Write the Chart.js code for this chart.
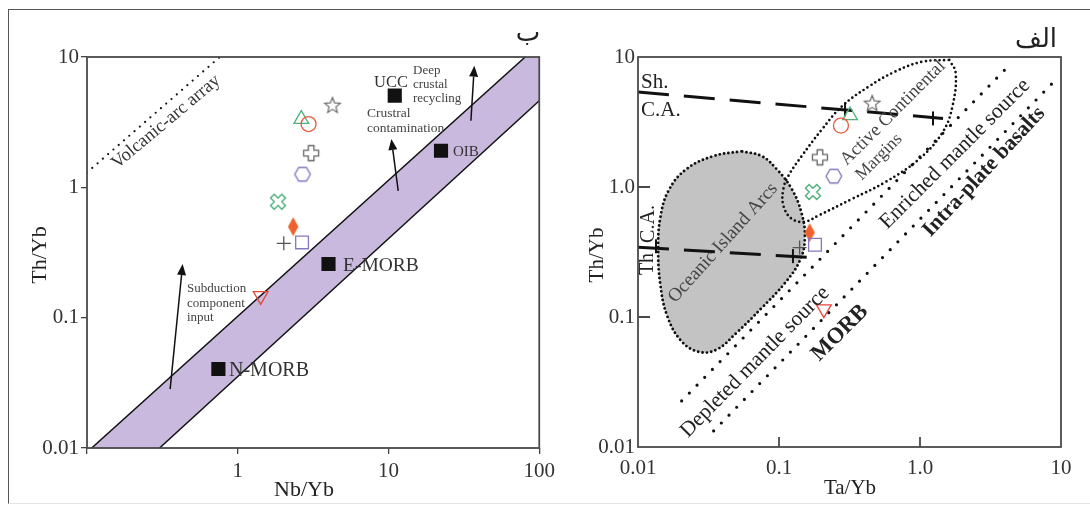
<!DOCTYPE html>
<html>
<head>
<meta charset="utf-8">
<script src="https://cdn.jsdelivr.net/npm/chart.js@4.4.1/dist/chart.umd.min.js"></script>
<style>
  html, body { margin: 0; padding: 0; background: #fff; }
  #wrap { position: relative; width: 1090px; height: 505px; overflow: hidden; }
  #frame { position: absolute; left: 8px; top: 9px; width: 1100px; height: 493px;
           border-left: 1.5px solid #555; border-top: 1.5px solid #555; border-bottom: 1px solid #e4e4e4; }
  canvas { position: absolute; top: 0; }
  #cB { left: 0; }
  #cA { left: 560px; }
</style>
</head>
<body>
<div id="wrap">
  <div id="frame"></div>
  <canvas id="cB" width="560" height="505"></canvas>
  <canvas id="cA" width="530" height="505"></canvas>
</div>
<script>
const SERIF = "'Liberation Serif', 'Times New Roman', serif";

// ---- samples (same symbols in both diagrams) ----
const sampleNames = ['star', 'triangle', 'circle', 'openCross', 'hexagon', 'openX', 'diamond', 'plus', 'square', 'invTriangle'];
// diagram ب : Nb/Yb vs Th/Yb
const nbYb  = [4.25, 2.64, 2.95, 3.07, 2.69, 1.85, 2.33, 2.02, 2.67, 1.42];
const thYbB = [4.23, 3.34, 3.06, 1.83, 1.26, 0.776, 0.499, 0.372, 0.378, 0.147];
// diagram الف : Ta/Yb vs Th/Yb
const taYb  = [0.458, 0.319, 0.275, 0.195, 0.245, 0.174, 0.165, 0.14, 0.18, 0.208];
const thYbA = [4.37, 3.55, 2.97, 1.69, 1.21, 0.916, 0.446, 0.342, 0.36, 0.115];

// reference compositions
const refNames = ['UCC', 'OIB', 'E-MORB', 'N-MORB'];
const refNb = [11.0, 22.3, 4.0, 0.744];
const refTh = [5.05, 1.91, 0.258, 0.0404];

// MORB-OIB array and volcanic-arc array (ب)
const bandUpperNb = [0.1074, 80.7];
const bandUpperTh = [0.01, 10];
const bandLowerNb = [0.303, 100];
const bandLowerTh = [0.01, 4.62];
const arcArrayNb = [0.1, 0.76];
const arcArrayTh = [1.3, 10];

// vectors (ب)
const arrowFromNb = [0.356, 11.6, 35.2];
const arrowFromTh = [0.0283, 0.94, 3.24];
const arrowToNb   = [0.431, 10.45, 37.1];
const arrowToTh   = [0.258, 2.35, 8.58];

// fields (الف)
const oiaTa = [0.0542, 0.0343, 0.022, 0.0164, 0.01436, 0.0139, 0.01436, 0.0161, 0.0202, 0.0268, 0.036, 0.05, 0.0753, 0.11, 0.1407, 0.1525, 0.145, 0.123, 0.0963, 0.0753, 0.0542];
const oiaTh = [1.88, 1.73, 1.37, 0.93, 0.57, 0.336, 0.182, 0.102, 0.0656, 0.054, 0.056, 0.0755, 0.117, 0.182, 0.272, 0.401, 0.622, 0.966, 1.37, 1.73, 1.88];
const acmTa = [1.612, 1.79, 1.70, 1.445, 0.986, 0.567, 0.33, 0.191, 0.1525, 0.123, 0.1074, 0.1074, 0.1166, 0.145, 0.2015, 0.28, 0.434, 0.668, 1.04, 1.612];
const acmTh = [9.49, 7.55, 4.18, 2.63, 1.64, 1.09, 0.81, 0.604, 0.541, 0.57, 0.72, 0.966, 1.22, 1.73, 2.77, 4.18, 5.93, 7.73, 9.2, 9.49];
const mantleUpperTa = [0.0204, 4.42];
const mantleUpperTh = [0.0226, 8.92];
const mantleLowerTa = [0.0344, 9.31];
const mantleLowerTh = [0.0133, 6.79];
const shoTa = [0.01, 1.456];   // Sh. / C.A.
const shoTh = [5.37, 3.37];
const thoTa = [0.01, 0.158];   // Th / C.A.
const thoTh = [0.344, 0.288];
const markTa = [0.294, 1.236, 0.1256, 0.01342];
const markTh = [3.95, 3.37, 0.294, 0.35];

// axes
const xTicksB = [0.1, 1, 10, 100];
const xTickLabelsB = ['', '1', '10', '100'];
const yTicksB = [0.01, 0.1, 1, 10];
const yTickLabelsB = ['0.01', '0.1', '1', '10'];
const xTicksA = [0.01, 0.1, 1, 10];
const xTickLabelsA = ['0.01', '0.1', '1.0', '10'];
const yTicksA = [0.01, 0.1, 1, 10];
const yTickLabelsA = ['0.01', '0.1', '1.0', '10'];

const pts = (xs, ys) => xs.map((x, i) => ({ x, y: ys[i] }));

// ---- marker images ----
function markerCanvas(w, h, draw) {
  const c = document.createElement('canvas');
  c.width = w; c.height = h;
  draw(c.getContext('2d'), w / 2, h / 2);
  return c;
}
function poly(g, cx, cy, p, rot) {
  g.beginPath();
  p.forEach(([x, y]) => {
    const c = Math.cos(rot), s = Math.sin(rot);
    g.lineTo(cx + x * c - y * s, cy + x * s + y * c);
  });
  g.closePath();
}
const crossPts = (a, L) => [[-a,-L],[a,-L],[a,-a],[L,-a],[L,a],[a,a],[a,L],[-a,L],[-a,a],[-L,a],[-L,-a],[-a,-a]];

const starImg = markerCanvas(20, 20, (g, cx, cy) => {
  const p = [];
  for (let i = 0; i < 10; i++) {
    const r = i % 2 ? 3.6 : 8.2, a = -Math.PI / 2 + i * Math.PI / 5;
    p.push([r * Math.cos(a), r * Math.sin(a)]);
  }
  poly(g, cx, cy, p, 0);
  g.strokeStyle = '#666'; g.lineWidth = 1.2; g.stroke();
});
const openCrossImg = markerCanvas(20, 20, (g, cx, cy) => {
  poly(g, cx, cy, crossPts(2.8, 7.5), 0);
  g.strokeStyle = '#666'; g.lineWidth = 1.3; g.stroke();
});
const openXImg = markerCanvas(22, 22, (g, cx, cy) => {
  poly(g, cx, cy, crossPts(2.6, 8), Math.PI / 4);
  g.strokeStyle = '#4daf78'; g.lineWidth = 1.4; g.stroke();
});
const hexImg = markerCanvas(20, 20, (g, cx, cy) => {
  const p = [];
  for (let i = 0; i < 6; i++) { const a = i * Math.PI / 3; p.push([7.8 * Math.cos(a), 7.8 * Math.sin(a)]); }
  poly(g, cx, cy, p, 0);
  g.strokeStyle = '#8577c0'; g.lineWidth = 1.4; g.stroke();
});
const diamondImg = markerCanvas(14, 22, (g, cx, cy) => {
  poly(g, cx, cy, [[0, -9.5], [5.2, 0], [0, 9.5], [-5.2, 0]], 0);
  g.fillStyle = '#f0622d'; g.fill();
});

const sampleStyle  = [starImg, 'triangle', 'circle', openCrossImg, hexImg, openXImg, diamondImg, 'cross', 'rect', 'triangle'];
const sampleColor  = ['#666', '#4db37a', '#e9573f', '#666', '#8577c0', '#4daf78', '#f0622d', '#555', '#8577c0', '#e9473a'];
const sampleRadius = [8, 8.5, 7.5, 8, 8, 8, 8, 7, 9, 8.5];
const sampleRot    = [0, 0, 0, 0, 0, 0, 0, 0, 0, 180];

function sampleDataset(xs, ys) {
  return {
    label: 'samples', data: pts(xs, ys), order: 0,
    pointStyle: sampleStyle, pointRadius: sampleRadius, pointRotation: sampleRot,
    pointBorderColor: sampleColor, pointBackgroundColor: 'rgba(0,0,0,0)', pointBorderWidth: 1.3
  };
}
function lineDataset(data, o) {
  return Object.assign({ data, showLine: true, pointRadius: 0, borderColor: '#111', borderWidth: 1.5,
    backgroundColor: 'rgba(0,0,0,0)', fill: false, tension: 0 }, o);
}
const dotted = (w, gap) => ({ borderWidth: w, borderDash: [0, gap], borderCapStyle: 'round', borderColor: '#111' });

// ---- text, frame, ticks, arrows ----
function drawNote(ctx, n) {
  ctx.save();
  ctx.translate(n.x, n.y);
  ctx.rotate((n.rot || 0) * Math.PI / 180);
  ctx.font = (n.bold ? 'bold ' : '') + n.size + 'px ' + (n.family || SERIF);
  ctx.fillStyle = n.color || '#222';
  ctx.textAlign = n.align || 'center';
  ctx.textBaseline = 'middle';
  ctx.fillText(n.t, 0, 0);
  ctx.restore();
}
function decor(notes, opts) {
  return {
    id: 'decor',
    afterDraw(chart) {
      const { ctx, chartArea: a, scales: { x, y } } = chart;
      ctx.save();
      ctx.strokeStyle = '#4a4a4a';
      ctx.lineWidth = 1.8;
      ctx.strokeRect(a.left, a.top, a.right - a.left, a.bottom - a.top);
      if (opts.inward) {
        ctx.beginPath();
        opts.inward.x.forEach(v => { const p = x.getPixelForValue(v); ctx.moveTo(p, a.bottom); ctx.lineTo(p, a.bottom - 10); });
        opts.inward.y.forEach(v => { const p = y.getPixelForValue(v); ctx.moveTo(a.left, p); ctx.lineTo(a.left + 12, p); });
        ctx.stroke();
      }
      if (opts.arrows) {
        const ar = opts.arrows;
        ctx.strokeStyle = '#111'; ctx.fillStyle = '#111'; ctx.lineWidth = 1.5;
        ar.fromX.forEach((_, i) => {
          const x0 = x.getPixelForValue(ar.fromX[i]), y0 = y.getPixelForValue(ar.fromY[i]);
          const x1 = x.getPixelForValue(ar.toX[i]), y1 = y.getPixelForValue(ar.toY[i]);
          const ang = Math.atan2(y1 - y0, x1 - x0);
          const L = 11, W = 4.5;
          const bx = x1 - L * Math.cos(ang), by = y1 - L * Math.sin(ang);
          ctx.beginPath(); ctx.moveTo(x0, y0); ctx.lineTo(bx, by); ctx.stroke();
          ctx.beginPath();
          ctx.moveTo(x1, y1);
          ctx.lineTo(bx + W * Math.sin(ang), by - W * Math.cos(ang));
          ctx.lineTo(bx - W * Math.sin(ang), by + W * Math.cos(ang));
          ctx.closePath(); ctx.fill();
        });
      }
      ctx.restore();
      notes.forEach(n => drawNote(ctx, n));
    }
  };
}

function logAxis(min, max, ticks, labels, pad, extra) {
  return Object.assign({
    type: 'logarithmic', min, max,
    afterBuildTicks: s => { s.ticks = ticks.map(v => ({ value: v })); },
    border: { display: false },
    ticks: { autoSkip: false, maxRotation: 0, padding: pad, color: '#333', font: { family: SERIF, size: 21 },
             callback: (v, i) => labels[i] }
  }, extra);
}

// ================= diagram ب =================
const bandPolyNb = [...bandUpperNb, 100, ...bandLowerNb.slice().reverse(), bandUpperNb[0]];
const bandPolyTh = [...bandUpperTh, 10, ...bandLowerTh.slice().reverse(), bandUpperTh[0]];

const notesB = [
  { t: 'ب', x: 528, y: 34, size: 26, family: "'DejaVu Sans', sans-serif", color: '#222' },
  { t: 'Th/Yb', x: 40, y: 255, size: 22, rot: -90, color: '#222' },
  { t: 'Nb/Yb', x: 304, y: 490, size: 22, color: '#222' },
  { t: 'Volcanic-arc array', x: 166, y: 122, size: 18.5, rot: -40, color: '#333' },
  { t: 'UCC', x: 391, y: 83, size: 16.5, color: '#333' },
  { t: 'Deep', x: 413, y: 71, size: 13, align: 'left', color: '#444' },
  { t: 'crustal', x: 413, y: 85, size: 13, align: 'left', color: '#444' },
  { t: 'recycling', x: 413, y: 99, size: 13, align: 'left', color: '#444' },
  { t: 'Crustral', x: 367, y: 113, size: 13.5, align: 'left', color: '#444' },
  { t: 'contamination', x: 367, y: 128, size: 13.5, align: 'left', color: '#444' },
  { t: 'OIB', x: 453, y: 152, size: 15, align: 'left', color: '#333' },
  { t: 'E-MORB', x: 343, y: 266, size: 19.5, align: 'left', color: '#333' },
  { t: 'N-MORB', x: 229, y: 371, size: 20, align: 'left', color: '#333' },
  { t: 'Subduction', x: 187, y: 289, size: 13, align: 'left', color: '#444' },
  { t: 'component', x: 187, y: 304, size: 13, align: 'left', color: '#444' },
  { t: 'input', x: 187, y: 318, size: 13, align: 'left', color: '#444' }
];

new Chart(document.getElementById('cB'), {
  type: 'scatter',
  data: {
    datasets: [
      sampleDataset(nbYb, thYbB),
      { label: 'reference', data: pts(refNb, refTh), order: 1, pointStyle: 'rect', pointRadius: 10,
        pointBackgroundColor: '#111', pointBorderColor: '#111', pointBorderWidth: 0 },
      lineDataset(pts(bandUpperNb, bandUpperTh), { order: 3 }),
      lineDataset(pts(bandLowerNb, bandLowerTh), { order: 3 }),
      lineDataset(pts(arcArrayNb, arcArrayTh), Object.assign({ order: 3 }, dotted(2.2, 7))),
      lineDataset(pts(bandPolyNb, bandPolyTh), { order: 5, borderWidth: 0, fill: 'shape', backgroundColor: '#cab9de' })
    ]
  },
  options: {
    responsive: false, animation: false, events: [],
    layout: { padding: { left: 0, top: 57, right: 18, bottom: 0 } },
    plugins: { legend: { display: false }, tooltip: { enabled: false } },
    scales: {
      x: logAxis(0.1, 100, xTicksB, xTickLabelsB, 5, {
        afterFit: s => { s.height = 57; },
        grid: { display: true, drawOnChartArea: false, tickLength: 6, color: '#444', lineWidth: 1.3 }
      }),
      y: logAxis(0.01, 10, yTicksB, yTickLabelsB, 2, {
        afterFit: s => { s.width = 87; },
        grid: { display: true, drawOnChartArea: false, tickLength: 6, color: '#444', lineWidth: 1.3 }
      })
    }
  },
  plugins: [decor(notesB, { arrows: { fromX: arrowFromNb, fromY: arrowFromTh, toX: arrowToNb, toY: arrowToTh } })]
});

// ================= diagram الف =================
const notesA = [
  { t: 'الف', x: 476, y: 40, size: 26, family: "'DejaVu Sans', sans-serif", color: '#222' },
  { t: 'Th/Yb', x: 37, y: 255, size: 21, rot: -90, color: '#222' },
  { t: 'Ta/Yb', x: 290, y: 488, size: 21, color: '#222' },
  { t: 'Sh.', x: 81, y: 82, size: 21, align: 'left', color: '#222' },
  { t: 'C.A.', x: 81, y: 110, size: 21, align: 'left', color: '#222' },
  { t: 'Th', x: 88, y: 264, size: 20, rot: -90, color: '#222' },
  { t: 'C.A.', x: 89, y: 224, size: 20, rot: -90, color: '#222' },
  { t: 'Oceanic Island Arcs', x: 163, y: 243, size: 19, rot: -48, color: '#444' },
  { t: 'Active Continental', x: 333, y: 113, size: 18.5, rot: -45, color: '#444' },
  { t: 'Margins', x: 319, y: 157, size: 17.5, rot: -45, color: '#444' },
  { t: 'Enriched mantle source', x: 395, y: 154, size: 21.5, rot: -45, color: '#222' },
  { t: 'Intra-plate basalts', x: 424, y: 172, size: 21.5, rot: -47, bold: true, color: '#222' },
  { t: 'Depleted mantle source', x: 195, y: 362, size: 21.5, rot: -45.5, color: '#222' },
  { t: 'MORB', x: 280, y: 333, size: 22.5, rot: -45, bold: true, color: '#222' }
];

new Chart(document.getElementById('cA'), {
  type: 'scatter',
  data: {
    datasets: [
      sampleDataset(taYb, thYbA),
      { label: 'marks', data: pts(markTa, markTh), order: 1, pointStyle: 'line', pointRotation: 90,
        pointRadius: 7, pointBorderWidth: 2, pointBorderColor: '#111' },
      lineDataset(pts(shoTa, shoTh), { order: 2, borderWidth: 3, borderDash: [31, 15] }),
      lineDataset(pts(thoTa, thoTh), { order: 2, borderWidth: 3, borderDash: [31, 15] }),
      lineDataset(pts(mantleUpperTa, mantleUpperTh), Object.assign({ order: 3 }, dotted(3.2, 11))),
      lineDataset(pts(mantleLowerTa, mantleLowerTh), Object.assign({ order: 3 }, dotted(3.2, 11))),
      lineDataset(pts(acmTa, acmTh), Object.assign({ order: 4, tension: 0.4 }, dotted(2.7, 4.6))),
      lineDataset(pts(oiaTa, oiaTh), Object.assign({ order: 5, tension: 0.4, fill: 'shape', backgroundColor: '#c3c3c3' }, dotted(2.9, 4.4)))
    ]
  },
  options: {
    responsive: false, animation: false, events: [],
    layout: { padding: { left: 0, top: 57, right: 29, bottom: 0 } },
    plugins: { legend: { display: false }, tooltip: { enabled: false } },
    scales: {
      x: logAxis(0.01, 10, xTicksA, xTickLabelsA, 9, {
        afterFit: s => { s.height = 58; },
        grid: { display: false, drawTicks: false }
      }),
      y: logAxis(0.01, 10, yTicksA, yTickLabelsA, 3, {
        afterFit: s => { s.width = 78; },
        grid: { display: false, drawTicks: false }
      })
    }
  },
  plugins: [decor(notesA, { inward: { x: [0.1, 1], y: [0.1, 1] } })]
});
</script>
</body>
</html>
